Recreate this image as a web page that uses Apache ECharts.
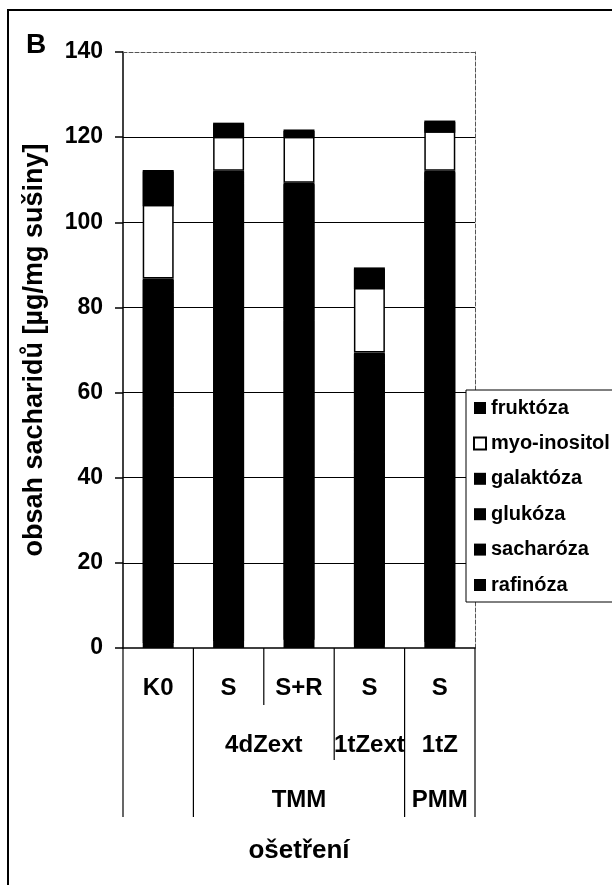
<!DOCTYPE html>
<html>
<head>
<meta charset="utf-8">
<script src="https://cdn.jsdelivr.net/npm/echarts@6/dist/echarts.min.js"></script>
<style>
html,body{margin:0;padding:0;background:#fff;}
#main{width:612px;height:885px;}
</style>
</head>
<body>
<div id="main"></div>
<script>
// ---- data ----
const categories = ['K0', 'S', 'S+R', 'S', 'S'];
const level2 = ['', '4dZext', '4dZext', '1tZext', '1tZ'];
const level3 = ['', 'TMM', 'TMM', 'TMM', 'PMM'];
const legendOrder = ['fruktóza', 'myo-inositol', 'galaktóza', 'glukóza', 'sacharóza', 'rafinóza'];
const rafinoza   = [1.5, 2.0, 2.3, 1.2, 1.8];
const sacharoza  = [55.0, 78.5, 75.0, 45.0, 80.0];
const glukoza    = [27.0, 29.0, 29.5, 21.0, 28.0];
const galaktoza  = [3.3, 2.6, 2.5, 2.2, 2.3];
const myoInositol = [17.3, 8.0, 10.8, 15.2, 9.3];
const fruktoza   = [8.2, 3.3, 1.7, 4.8, 2.5];
const yTicks = [0, 20, 40, 60, 80, 100, 120, 140];

const FONT = "'Liberation Sans', Arial, sans-serif";
const chart = echarts.init(document.getElementById('main'));

function blackBar(name, data, isBottom) {
  return {
    name: name, type: 'bar', stack: 'total', data: data, barWidth: '44%',
    itemStyle: isBottom ? { color: '#000', borderWidth: 0 }
      : { color: '#000', borderWidth: 0, shadowColor: '#000', shadowBlur: 0, shadowOffsetX: 0, shadowOffsetY: 1.5 },
    emphasis: { disabled: true }
  };
}

const option = {
  animation: false,
  backgroundColor: '#fff',
  grid: { left: 123, right: 137, top: 52, bottom: 237 },
  xAxis: [{
    type: 'category', data: categories,
    axisLine: { lineStyle: { color: '#000', width: 1.5 } },
    axisTick: { show: false },
    axisLabel: { color: '#000', fontSize: 24, fontWeight: 'bold', fontFamily: FONT, margin: 28, interval: 0 },
    name: 'ošetření', nameLocation: 'middle', nameGap: 190,
    nameTextStyle: { color: '#000', fontSize: 26, fontWeight: 'bold', fontFamily: FONT }
  }, {
    type: 'category', data: categories, position: 'top',
    axisLine: { onZero: false, lineStyle: { color: '#555', type: 'dashed', width: 1 } },
    axisTick: { show: false }, axisLabel: { show: false }
  }],
  yAxis: [{
    type: 'value', min: yTicks[0], max: yTicks[yTicks.length - 1], interval: yTicks[1] - yTicks[0],
    axisLine: { show: true, lineStyle: { color: '#000', width: 1.5 } },
    axisTick: { show: true, length: 8, lineStyle: { color: '#000', width: 1.5 } },
    axisLabel: { color: '#000', fontSize: 23, fontWeight: 'bold', fontFamily: FONT, margin: 20 },
    splitLine: { show: true, showMinLine: false, showMaxLine: false, lineStyle: { color: '#000', width: 1.2 } },
    name: 'obsah sacharidů [µg/mg sušiny]', nameLocation: 'middle', nameGap: 75,
    nameTextStyle: { color: '#000', fontSize: 27, fontWeight: 'bold', fontFamily: FONT }
  }, {
    type: 'value', min: yTicks[0], max: yTicks[yTicks.length - 1], interval: yTicks[1] - yTicks[0],
    position: 'right',
    axisLine: { show: true, onZero: false, lineStyle: { color: '#555', type: 'dashed', width: 1 } },
    axisTick: { show: false }, axisLabel: { show: false }, splitLine: { show: false }
  }],
  legend: {
    data: legendOrder, orient: 'vertical', left: 466, top: 390,
    icon: 'rect', itemWidth: 12, itemHeight: 12, itemGap: 15.4,
    borderColor: '#000', borderWidth: 1, backgroundColor: '#fff',
    padding: [8, 14, 7, 7],
    textStyle: { color: '#000', fontSize: 20, fontWeight: 'bold', fontFamily: FONT }
  },
  series: [
    blackBar('rafinóza', rafinoza, true),
    blackBar('sacharóza', sacharoza),
    blackBar('glukóza', glukoza),
    blackBar('galaktóza', galaktoza),
    {
      name: 'myo-inositol', type: 'bar', stack: 'total', data: myoInositol, barWidth: '44%',
      itemStyle: { color: '#fff', borderColor: '#000', borderWidth: 1.5 },
      emphasis: { disabled: true }
    },
    blackBar('fruktóza', fruktoza)
  ]
};
chart.setOption(option);

// ---- multi-level category labels and separators, positioned from the axis scale ----
const centers = categories.map((c, i) => chart.convertToPixel({ xAxisIndex: 0 }, i));
const band = centers[1] - centers[0];
const y0 = chart.convertToPixel({ yAxisIndex: 0 }, 0);
const n = categories.length;
const graphics = [];

// outer frame
graphics.push({ type: 'rect', shape: { x: 8, y: 10, width: 800, height: 1000 },
  style: { fill: null, stroke: '#000', lineWidth: 2 }, silent: true });
// panel letter
graphics.push({ type: 'text', style: { x: 36, y: 45, text: 'B', textAlign: 'center', textVerticalAlign: 'middle',
  font: "bold 28px " + FONT, fill: '#000' }, silent: true });

const yShort = 705, yMid = 760, yLong = 817;
for (let e = 0; e <= n; e++) {
  const x = (e < n ? centers[e] : centers[n - 1] + band) - band / 2;
  let yEnd;
  if (e === 0 || e === n || level3[e - 1] !== level3[e]) yEnd = yLong;
  else if (level2[e - 1] !== level2[e]) yEnd = yMid;
  else yEnd = yShort;
  graphics.push({ type: 'line', shape: { x1: x, y1: y0, x2: x, y2: yEnd },
    style: { stroke: '#000', lineWidth: 1.2 }, silent: true });
}
function groupLabels(arr, yc) {
  let i = 0;
  while (i < n) {
    let j = i;
    while (j + 1 < n && arr[j + 1] === arr[i]) j++;
    if (arr[i]) {
      const xc = (centers[i] + centers[j]) / 2;
      graphics.push({ type: 'text', style: { x: xc, y: yc, text: arr[i], textAlign: 'center', textVerticalAlign: 'middle',
        font: "bold 24px " + FONT, fill: '#000' }, silent: true });
    }
    i = j + 1;
  }
}
groupLabels(level2, 745);
groupLabels(level3, 800);
chart.setOption({ graphic: graphics });
</script>
</body>
</html>
